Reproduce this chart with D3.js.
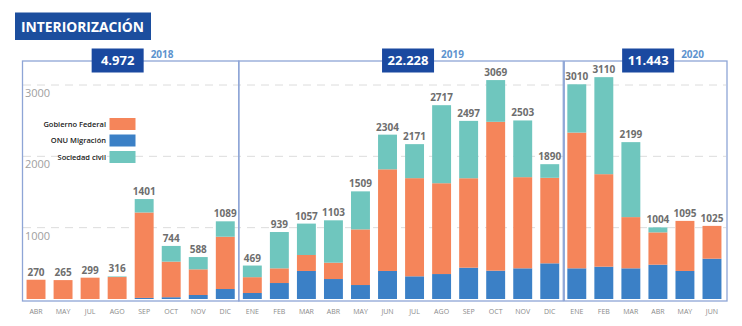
<!DOCTYPE html>
<html>
<head>
<meta charset="utf-8">
<script src="https://cdn.jsdelivr.net/npm/d3@7"></script>
<style>
  body { margin: 0; background: #fff; }
  svg { font-family: "Open Sans", sans-serif; }
</style>
</head>
<body>
<div id="chart"></div>
<script>
// months per year
const months2018 = ["ABR", "MAY", "JUL", "AGO", "SEP", "OCT", "NOV", "DIC"];
const months2019 = ["ENE", "FEB", "MAR", "ABR", "MAY", "JUN", "JUL", "AGO", "SEP", "OCT", "NOV", "DIC"];
const months2020 = ["ENE", "FEB", "MAR", "ABR", "MAY", "JUN"];
const years = ["2018", "2019", "2020"];
const yearTotals = ["4.972", "22.228", "11.443"];

// stacked series (bottom to top)
const onuMigracion = [0, 0, 0, 0, 15, 25, 56, 140,
                      84, 224, 393, 280, 196, 393, 318, 350, 439, 397, 430, 500,
                      430, 453, 430, 481, 393, 565];
const gobiernoFederal = [270, 265, 299, 308, 1198, 499, 360, 733,
                         222, 206, 224, 229, 780, 1425, 1376, 1273, 1254, 2087, 1278, 1199,
                         1903, 1297, 718, 453, 702, 460];
const sociedadCivil = [0, 0, 0, 8, 188, 220, 172, 216,
                       163, 509, 440, 594, 533, 486, 477, 1094, 804, 585, 795, 191,
                       677, 1360, 1051, 70, 0, 0];
const yTicks = [1000, 2000, 3000];

const seriesNames = ["ONU Migración", "Gobierno Federal", "Sociedad civil"];
const colors = {"ONU Migración": "#3b80c6", "Gobierno Federal": "#f5855a", "Sociedad civil": "#6fc6be"};

const monthGroups = [months2018, months2019, months2020];
const rows = [];
monthGroups.forEach((ms, gi) => ms.forEach(m => rows.push({key: years[gi] + "-" + m, month: m, year: years[gi]})));
rows.forEach((r, i) => {
  r["ONU Migración"] = onuMigracion[i];
  r["Gobierno Federal"] = gobiernoFederal[i];
  r["Sociedad civil"] = sociedadCivil[i];
  r.total = onuMigracion[i] + gobiernoFederal[i] + sociedadCivil[i];
});

const W = 742, H = 326;
const svg = d3.select("#chart").append("svg").attr("width", W).attr("height", H);

const x = d3.scaleBand()
  .domain(rows.map(d => d.key))
  .range([22.5, 725.5])
  .paddingInner(0.3)
  .paddingOuter(0.15);

const y = d3.scaleLinear().domain([0, 3000]).range([299, 85]);

// grid
svg.append("g").selectAll("line")
  .data(yTicks).enter().append("line")
  .attr("x1", 23).attr("x2", 726)
  .attr("y1", d => y(d)).attr("y2", d => y(d))
  .attr("stroke", "#dcdcdc").attr("stroke-width", 1)
  .attr("stroke-dasharray", "8,6");

svg.append("g").selectAll("text")
  .data(yTicks).enter().append("text")
  .attr("x", 25).attr("y", d => y(d) + 12)
  .attr("font-size", 11).attr("fill", "#a0a0a0")
  .text(d => d);

// bars
const stack = d3.stack().keys(seriesNames)(rows);
svg.append("g").selectAll("g")
  .data(stack).enter().append("g")
  .attr("fill", d => colors[d.key])
  .selectAll("rect")
  .data(d => d).enter().append("rect")
  .attr("x", d => x(d.data.key))
  .attr("width", x.bandwidth())
  .attr("y", d => y(d[1]))
  .attr("height", d => y(d[0]) - y(d[1]));

// totals
svg.append("g").selectAll("text")
  .data(rows).enter().append("text")
  .attr("x", d => x(d.key) + x.bandwidth() / 2)
  .attr("y", d => y(d.total) - 4)
  .attr("text-anchor", "middle")
  .attr("font-size", 10).attr("font-weight", 700).attr("fill", "#6e6e6e")
  .text(d => d.total);

// month labels
svg.append("g").selectAll("text")
  .data(rows).enter().append("text")
  .attr("x", d => x(d.key) + x.bandwidth() / 2)
  .attr("y", 314)
  .attr("text-anchor", "middle")
  .attr("font-size", 7).attr("fill", "#8a8a8a")
  .text(d => d.month);

// year frames
const pad = (x.step() - x.bandwidth()) / 2;
const boxOffset = [-13, 7, 3];
monthGroups.forEach((ms, gi) => {
  const first = years[gi] + "-" + ms[0], last = years[gi] + "-" + ms[ms.length - 1];
  const x0 = gi === 0 ? x.range()[0] : x(first) - pad;
  const x1 = gi === monthGroups.length - 1 ? x.range()[1] + 1.5 : x(last) + x.bandwidth() + pad;
  svg.append("rect")
    .attr("x", x0 + (gi === 2 ? 1 : 0)).attr("y", 61)
    .attr("width", x1 - x0 - (gi === 2 ? 1 : 0)).attr("height", 240)
    .attr("fill", "none").attr("stroke", "#8ea5d6").attr("stroke-width", 1.3);

  const cx = (x0 + x1) / 2 + boxOffset[gi];
  svg.append("rect")
    .attr("x", cx - 26).attr("y", 48.5).attr("width", 52).attr("height", 24)
    .attr("fill", "#1a49a0");
  svg.append("text")
    .attr("x", cx).attr("y", 65)
    .attr("text-anchor", "middle")
    .attr("font-size", 13).attr("font-weight", 700).attr("fill", "#fff")
    .text(yearTotals[gi]);
  svg.append("text")
    .attr("x", cx + 33).attr("y", 58)
    .attr("font-size", 10).attr("font-weight", 700).attr("fill", "#5d93ce")
    .text(years[gi]);
});

// title
svg.append("rect").attr("x", 15).attr("y", 12.5).attr("width", 136).attr("height", 27.5).attr("fill", "#1c4e9e");
svg.append("text")
  .attr("x", 21).attr("y", 32)
  .attr("font-size", 15).attr("font-weight", 700).attr("fill", "#fff")
  .attr("textLength", 123).attr("lengthAdjust", "spacingAndGlyphs")
  .text("INTERIORIZACIÓN");

// legend
const legendOrder = ["Gobierno Federal", "ONU Migración", "Sociedad civil"];
const legend = svg.append("g").selectAll("g")
  .data(legendOrder).enter().append("g")
  .attr("transform", (d, i) => `translate(0,${118 + i * 16.5})`);
legend.append("rect")
  .attr("x", 109.5).attr("width", 26).attr("height", 12)
  .attr("fill", d => colors[d]);
legend.append("text")
  .attr("x", 106).attr("y", 8.5)
  .attr("text-anchor", "end")
  .attr("font-size", 7.5).attr("font-weight", 600).attr("fill", "#222")
  .text(d => d);
</script>
</body>
</html>
